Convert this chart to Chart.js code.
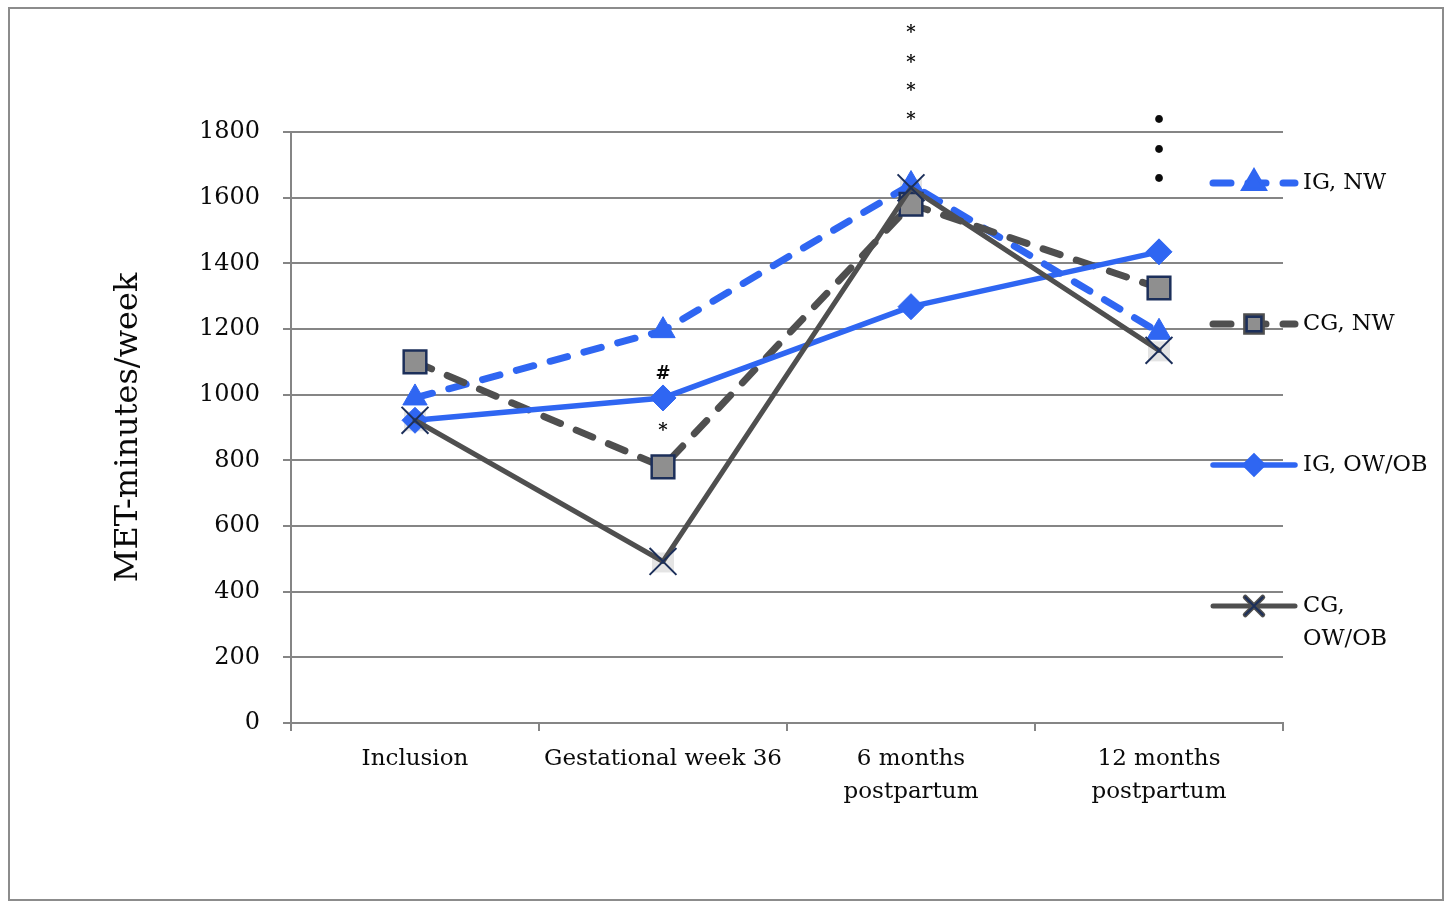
<!DOCTYPE html>
<html>
<head>
<meta charset="utf-8">
<script src="https://cdn.jsdelivr.net/npm/chart.js@4.4.1/dist/chart.umd.min.js"></script>
<style>
  html, body { margin: 0; padding: 0; background: #ffffff; }
  #wrap { position: relative; width: 1450px; height: 905px; }
</style>
</head>
<body>
<div id="wrap"><canvas id="chart" width="1450" height="905"></canvas></div>
<script>
// Time points
const categories = ['Inclusion', 'Gestational week 36', ['6 months', 'postpartum'], ['12 months', 'postpartum']];

// MET-minutes/week per group
const igNW   = [990, 1195, 1640, 1190];
const cgNW   = [1100, 780, 1580, 1325];
const igOWOB = [922, 990, 1268, 1435];
const cgOWOB = [922, 492, 1630, 1135];

// Legend labels
const seriesLabels = ['IG, NW', 'CG, NW', 'IG, OW/OB', ['CG,', 'OW/OB']];

// Y axis ticks
const yMin = 0, yMax = 1800, yStep = 200;

// Significance markers: [category index, symbol, value position]
const markIndex  = [1, 1, 2, 2, 2, 2, 3, 3, 3];
const markSymbol = ['#', '*', '*', '*', '*', '*', '•', '•', '•'];
const markValue  = [1062, 888, 2100, 2010, 1925, 1835, 1832, 1740, 1654];

const BLUE = '#2f66f2';
const GREY = '#4f4f4f';
const NAVY = '#1c2f5a';
const GRID = '#858585';
const TEXT = '#0a0a0a';
const FONT = "'DejaVu Serif', 'Liberation Serif', serif";

const frame = {
  id: 'frame',
  beforeDraw(chart) {
    const c = chart.ctx;
    c.save();
    c.fillStyle = '#ffffff';
    c.fillRect(0, 0, chart.width, chart.height);
    c.strokeStyle = '#8c8c8c';
    c.lineWidth = 2;
    c.strokeRect(9, 8, 1434, 892);
    c.restore();
  }
};

// Pale square behind the cross markers
const crossBacks = {
  id: 'crossBacks',
  beforeDatasetsDraw(chart) {
    const c = chart.ctx;
    chart.data.datasets.forEach((ds, i) => {
      if (ds.pointStyle !== 'crossRot') return;
      chart.getDatasetMeta(i).data.forEach(pt => {
        c.save();
        c.fillStyle = 'rgba(225,225,225,0.9)';
        c.fillRect(pt.x - 11, pt.y - 9, 22, 20);
        c.restore();
      });
    });
  }
};

const marks = {
  id: 'marks',
  afterDatasetsDraw(chart) {
    const c = chart.ctx;
    const xs = chart.scales.x, ys = chart.scales.y;
    c.save();
    c.fillStyle = TEXT;
    c.textAlign = 'center';
    c.textBaseline = 'middle';
    markIndex.forEach((idx, i) => {
      const s = markSymbol[i];
      c.font = (s === '•' ? 'bold 22px ' : 'bold 18px ') + FONT;
      c.fillText(s, xs.getPixelForValue(idx), ys.getPixelForValue(markValue[i]));
    });
    c.restore();
  }
};

const sideLegend = {
  id: 'sideLegend',
  afterDraw(chart) {
    const c = chart.ctx;
    const area = chart.chartArea;
    const x0 = area.right - 70, x1 = x0 + 82;
    c.save();
    chart.data.datasets.forEach((ds, i) => {
      const y = area.top + 51 + i * 141;
      c.strokeStyle = ds.borderColor;
      c.lineWidth = ds.borderWidth;
      c.lineCap = 'round';
      c.setLineDash(ds.borderDash || []);
      c.beginPath();
      c.moveTo(x0, y);
      c.lineTo(x1, y);
      c.stroke();
      c.setLineDash([]);
      Chart.helpers.drawPoint(c, {
        pointStyle: ds.pointStyle,
        radius: ds.pointRadius * 0.65,
        rotation: 0,
        borderWidth: ds.pointBorderWidth
      }, (x0 + x1) / 2, y);
      c.fillStyle = ds.pointBackgroundColor;
      c.strokeStyle = ds.pointBorderColor;
      c.lineWidth = ds.pointBorderWidth;
      if (ds.pointStyle !== 'crossRot') c.fill();
      c.stroke();
      c.fillStyle = TEXT;
      c.font = '22.5px ' + FONT;
      c.textAlign = 'left';
      c.textBaseline = 'middle';
      const lines = Array.isArray(seriesLabels[i]) ? seriesLabels[i] : [seriesLabels[i]];
      lines.forEach((t, k) => c.fillText(t, x1 + 8, y + k * 33));
    });
    c.restore();
  }
};

function series(label, data, color, width, dash, style, radius, fill, border, bw) {
  return {
    label, data,
    borderColor: color,
    borderWidth: width,
    borderDash: dash,
    borderCapStyle: 'round',
    borderJoinStyle: 'round',
    tension: 0,
    fill: false,
    pointStyle: style,
    pointRadius: radius,
    pointHoverRadius: radius,
    pointBackgroundColor: fill,
    pointBorderColor: border,
    pointBorderWidth: bw
  };
}

new Chart(document.getElementById('chart'), {
  type: 'line',
  data: {
    labels: categories,
    datasets: [
      Object.assign(series('IG, NW', igNW, BLUE, 7, [18, 17], 'triangle', 14, BLUE, BLUE, 1), { order: 4 }),
      Object.assign(series('CG, NW', cgNW, GREY, 7, [18, 17], 'rect', 16, '#8f8f8f', NAVY, 2.5), { order: 3 }),
      Object.assign(series('IG, OW/OB', igOWOB, BLUE, 5.5, [], 'rectRot', 13, BLUE, BLUE, 1), { order: 2 }),
      Object.assign(series('CG, OW/OB', cgOWOB, GREY, 5, [], 'crossRot', 19, NAVY, NAVY, 2), { order: 1 })
    ]
  },
  options: {
    responsive: false,
    animation: false,
    layout: { padding: { left: 0, right: 167, top: 132, bottom: 0 } },
    plugins: {
      legend: { display: false },
      tooltip: { enabled: false }
    },
    scales: {
      x: {
        offset: true,
        afterFit(s) { s.height = 182; },
        grid: {
          offset: true,
          drawOnChartArea: false,
          drawTicks: true,
          tickLength: 8,
          color: GRID,
          lineWidth: 2
        },
        border: { color: GRID, width: 2 },
        ticks: {
          color: TEXT,
          font: { family: FONT, size: 23, lineHeight: 1.43 },
          padding: 12,
          maxRotation: 0
        }
      },
      y: {
        min: yMin,
        max: yMax,
        afterFit(s) { s.width = 291; },
        ticks: {
          stepSize: yStep,
          color: TEXT,
          font: { family: FONT, size: 24 },
          padding: 23,
          callback: v => String(v)
        },
        grid: {
          color: GRID,
          lineWidth: 2,
          tickLength: 8
        },
        border: { color: GRID, width: 2 },
        title: {
          display: true,
          text: 'MET-minutes/week',
          color: TEXT,
          font: { family: FONT, size: 32 },
          padding: { top: 109, bottom: 0 }
        }
      }
    }
  },
  plugins: [frame, crossBacks, marks, sideLegend]
});
</script>
</body>
</html>
